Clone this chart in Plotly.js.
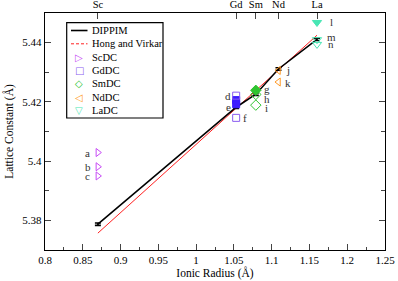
<!DOCTYPE html>
<html><head><meta charset="utf-8">
<script src="https://cdn.plot.ly/plotly-3.0.1.min.js"></script>
<style>html,body{margin:0;padding:0;background:#fff}</style>
</head><body><div id="chart" style="width:398px;height:281px"></div>
<script>
// Element ionic radii (top axis)
const elementNames = ["Sc", "Gd", "Sm", "Nd", "La"];
const elementRadius = [0.87, 1.053, 1.079, 1.109, 1.16];

// DIPPIM lattice constants
const dippimY = [5.3787, 5.4182, 5.4226, 5.4311, 5.4411];
const dippimErr = [0.0004, 0.0004, 0.0004, 0.0004, 0.0004];

// Hong and Virkar
const hongX = [0.87, 1.16];
const hongY = [5.3757, 5.4425];

// Literature points
const scY = [5.4029, 5.3981, 5.3950];
const scLabels = ["a", "b", "c"];
const gdOpenY = [5.4221, 5.4146];
const gdOpenLabels = ["d", "f"];
const gdFilledY = [5.4206, 5.4192];
const gdFilledLabels = ["", "e"];
const smFilledY = [5.4239];
const smFilledLabels = ["g"];
const smOpenY = [5.4225, 5.4189];
const smOpenLabels = ["h", "i"];
const ndY = [5.4306, 5.4267];
const ndLabels = ["j", "k"];
const laFilledY = [5.4468];
const laFilledLabels = ["l"];
const laOpenY = [5.4410, 5.4394];
const laOpenLabels = ["m", "n"];

// legend entries
const legendNames = ["DIPPIM", "Hong and Virkar", "ScDC", "GdDC", "SmDC", "NdDC", "LaDC"];
const legendSymbols = ["", "", "\u25B7", "\u25A1", "\u25C7", "\u25C1", "\u25BD"];

const FONT = "Liberation Serif, Times New Roman, serif";
const rep = (v, n) => Array(n).fill(v);

const cSc = "#c74cf5", cGd = "#8a5cf0", cGdF = "#3a1cff", cSm = "#2fc42f", cNd = "#ff9a26", cLa = "#48e6b4";
const legendColors = ["#000", "#ff2020", cSc, cGd, cSm, cNd, cLa];

// plot geometry (pixels)
const W = 398, H = 281, ML = 45, MR = 13, MT = 13, MB = 31;
const PW = W - ML - MR, PH = H - MT - MB;
const YR = [5.37, 5.45];
const px2paperX = p => (p - ML) / PW;
const px2paperY = p => 1 - (p - MT) / PH;
const yToPx = y => MT + (YR[1] - y) / (YR[1] - YR[0]) * PH;

const traces = [
  {x: hongX, y: hongY, name: "Hong and Virkar", mode: "lines", line: {color: "#ff2020", width: 1}},
  {x: elementRadius, y: dippimY, name: "DIPPIM", mode: "lines", line: {color: "#000", width: 1.6},
   error_y: {type: "data", array: dippimErr, visible: true, color: "#000", thickness: 1.6, width: 3}},
  {x: rep(elementRadius[0], scY.length), y: scY, name: "ScDC", mode: "markers",
   marker: {symbol: "triangle-right-open", size: 7, color: cSc, line: {width: 1}}},
  {x: rep(elementRadius[1], gdFilledY.length), y: gdFilledY, name: "GdDC", mode: "markers",
   marker: {symbol: "square", size: 7, color: cGdF, line: {width: 1, color: cGdF}}},
  {x: rep(elementRadius[1], gdOpenY.length), y: gdOpenY, name: "GdDC", mode: "markers",
   marker: {symbol: "square-open", size: 7, color: cGd, line: {width: 1}}},
  {x: rep(elementRadius[2], smFilledY.length), y: smFilledY, name: "SmDC", mode: "markers",
   marker: {symbol: "diamond", size: 8, color: cSm, line: {width: 1, color: cSm}}},
  {x: rep(elementRadius[2], smOpenY.length), y: smOpenY, name: "SmDC", mode: "markers",
   marker: {symbol: "diamond-open", size: 8, color: cSm, line: {width: 1}}},
  {x: rep(elementRadius[3], ndY.length), y: ndY, name: "NdDC", mode: "markers",
   marker: {symbol: "triangle-left-open", size: 7, color: cNd, line: {width: 1}}},
  {x: rep(elementRadius[4], laFilledY.length), y: laFilledY, name: "LaDC", mode: "markers",
   marker: {symbol: "triangle-down", size: 8, color: cLa, line: {width: 1, color: cLa}}},
  {x: rep(elementRadius[4], laOpenY.length), y: laOpenY, name: "LaDC", mode: "markers",
   marker: {symbol: "triangle-down-open", size: 8, color: cLa, line: {width: 1}}},
  {x: elementRadius, y: dippimY, xaxis: "x2", mode: "none", showlegend: false, hoverinfo: "skip"}
];

// point labels: label pixel y targets
const annotations = [];
function addLabels(xv, ys, labels, xshift, labelPxY) {
  ys.forEach((y, i) => {
    if (!labels[i]) return;
    const ysh = labelPxY ? (yToPx(y) - labelPxY[i]) : 0;
    annotations.push({x: xv, y: y, text: labels[i], showarrow: false, xref: "x", yref: "y",
      xshift: xshift, yshift: ysh, font: {family: FONT, size: 11, color: "#333"}});
  });
}
addLabels(elementRadius[0], scY, scLabels, -10);
addLabels(elementRadius[1], [gdOpenY[0]], [gdOpenLabels[0]], -8, [96]);
addLabels(elementRadius[1], [gdOpenY[1]], [gdOpenLabels[1]], 9, [118]);
addLabels(elementRadius[1], gdFilledY, gdFilledLabels, -8, [0, 107]);
addLabels(elementRadius[2], smFilledY, smFilledLabels, 11, [89]);
addLabels(elementRadius[2], smOpenY, smOpenLabels, 11, [99, 108]);
addLabels(elementRadius[3], ndY, ndLabels, 10, [70, 83]);
addLabels(elementRadius[4], laFilledY, laFilledLabels, 14, [22]);
addLabels(elementRadius[4], laOpenY, laOpenLabels, 14, [37, 44]);

// manual legend (compact, like the original)
const shapes = [];
const LX0 = 66.7, LX1 = 163, LY0 = 22.7, LY1 = 118;
shapes.push({type: "rect", xref: "paper", yref: "paper", x0: px2paperX(LX0), x1: px2paperX(LX1),
  y0: px2paperY(LY1), y1: px2paperY(LY0), line: {color: "#000", width: 1.2}, fillcolor: "#fff", layer: "above"});
const rowY = [30.5, 43.8, 57.1, 70.4, 83.7, 97.0, 110.3];
legendNames.forEach((nm, i) => {
  const yp = px2paperY(rowY[i]);
  if (i < 2) {
    shapes.push({type: "line", xref: "paper", yref: "paper", x0: px2paperX(71), x1: px2paperX(87.5), y0: yp, y1: yp,
      line: {color: legendColors[i], width: i === 0 ? 1.6 : 1, dash: i === 0 ? "solid" : "3px,2px"}, layer: "above"});
  } else {
    annotations.push({xref: "paper", yref: "paper", x: px2paperX(79), y: yp, text: legendSymbols[i], showarrow: false,
      xanchor: "center", yanchor: "middle", font: {family: "DejaVu Sans", size: 10, color: legendColors[i]}});
  }
  annotations.push({xref: "paper", yref: "paper", x: px2paperX(89.5), y: yp, text: nm, showarrow: false,
    xanchor: "left", yanchor: "middle", font: {family: FONT, size: 10.5, color: "#000"}});
});

const tickFont = {family: FONT, size: 11, color: "#000"};
const layout = {
  width: W, height: H,
  margin: {l: ML, r: MR, t: MT, b: MB},
  paper_bgcolor: "#fff", plot_bgcolor: "#fff",
  font: {family: FONT, color: "#000"},
  showlegend: false,
  xaxis: {range: [0.8, 1.25], dtick: 0.05, tick0: 0.8, ticks: "inside", ticklen: 6, tickwidth: 1,
    showline: true, linecolor: "#000", linewidth: 1.2, mirror: false, showgrid: false, zeroline: false,
    tickfont: tickFont, minor: {ticks: "inside", ticklen: 3, dtick: 0.025, tick0: 0.8, showgrid: false},
    title: {text: "Ionic Radius (Å)", font: {family: FONT, size: 11.5}, standoff: 3}},
  xaxis2: {range: [0.8, 1.25], overlaying: "x", side: "top", anchor: "y", tickvals: elementRadius, ticktext: elementNames,
    ticks: "inside", ticklen: 6, showline: true, linecolor: "#000", linewidth: 1.2, showgrid: false, zeroline: false,
    tickfont: {family: FONT, size: 10.5, color: "#000"}},
  yaxis: {range: YR, dtick: 0.02, tick0: 5.38, ticks: "inside", ticklen: 6, showline: true, linecolor: "#000",
    linewidth: 1.2, mirror: "ticks", showgrid: false, zeroline: false, tickfont: tickFont,
    minor: {ticks: "inside", ticklen: 4, dtick: 0.01, tick0: 5.37, showgrid: false},
    title: {text: "Lattice Constant (Å)", font: {family: FONT, size: 11.5}, standoff: 6}},
  annotations: annotations,
  shapes: shapes
};
Plotly.newPlot("chart", traces, layout, {displayModeBar: false, staticPlot: true});
</script>
</body></html>
